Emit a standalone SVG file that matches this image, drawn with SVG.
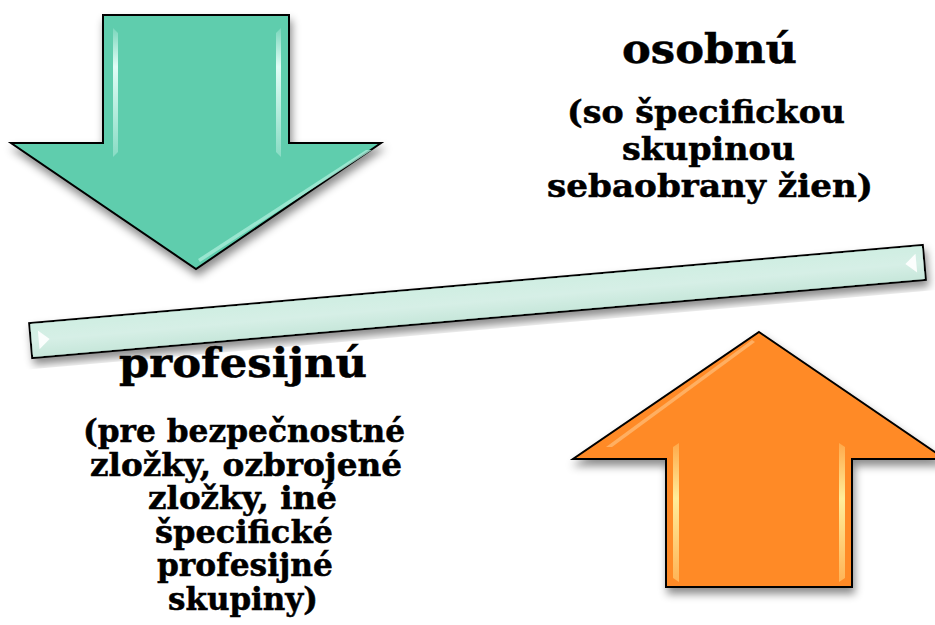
<svg xmlns="http://www.w3.org/2000/svg" width="935" height="625" viewBox="0 0 935 625">
  <defs>
    <filter id="shadow" x="-20%" y="-20%" width="140%" height="150%">
      <feDropShadow dx="2" dy="6" stdDeviation="4" flood-color="#000" flood-opacity="0.45"/>
    </filter>
    <linearGradient id="beamFill" x1="0" y1="0" x2="0" y2="1">
      <stop offset="0" stop-color="#cfeee2"/>
      <stop offset="0.5" stop-color="#d6efe6"/>
      <stop offset="1" stop-color="#c6e6da"/>
    </linearGradient>
    <linearGradient id="greenHi" x1="0" y1="0" x2="0" y2="1">
      <stop offset="0" stop-color="#e8fffa" stop-opacity="0.2"/>
      <stop offset="0.3" stop-color="#e8fffa" stop-opacity="0.95"/>
      <stop offset="1" stop-color="#e8fffa" stop-opacity="0.3"/>
    </linearGradient>
    <linearGradient id="orangeHi" x1="0" y1="0" x2="0" y2="1">
      <stop offset="0" stop-color="#fff2a0" stop-opacity="0.3"/>
      <stop offset="0.4" stop-color="#fff2a0" stop-opacity="0.95"/>
      <stop offset="1" stop-color="#fff2a0" stop-opacity="0.4"/>
    </linearGradient>
  </defs>
  <style>
    .outline { stroke: #000; stroke-width: 2; stroke-linejoin: miter; }
    .green { fill: #5ecdad; }
    .orange { fill: #ff8a26; }
    .title, .sub { font-family: "DejaVu Serif", "Liberation Serif", serif; font-weight: bold; fill: #000; stroke: #000; stroke-width: 0.5; }
    .title { font-size: 41px; }
    .sub { font-size: 31px; }
  </style>

  <rect width="935" height="625" fill="#fff"/>

  <!-- downward green arrow -->
  <g id="down-arrow">
    <polygon class="green outline" filter="url(#shadow)" points="103,15 289,15 289,143 381,143 196,269 11,143 103,143"/>
    <path d="M113,28 L118,33 L118,152 L113,157 Z" fill="url(#greenHi)"/>
    <path d="M281,28 L276,33 L276,152 L281,157 Z" fill="url(#greenHi)"/>
    <path d="M372,150 L200,262 L198,259 L366,150 Z" fill="#a8ecd8" opacity="0.8"/>
  </g>

  <!-- upward orange arrow -->
  <g id="up-arrow">
    <polygon class="orange outline" filter="url(#shadow)" points="759,332 945,459 852,459 852,587 666,587 666,459 573,459"/>
    <path d="M673,447 L679,443 L679,582 L673,578 Z" fill="url(#orangeHi)"/>
    <path d="M845,447 L839,443 L839,582 L845,578 Z" fill="url(#orangeHi)"/>
    <path d="M755,342 L612,447 L606,447 L752,340 Z" fill="#ffb870" opacity="0.8"/>
  </g>

  <!-- tilted beam -->
  <g id="beam" transform="rotate(-5 477.5 301.5)">
    <rect class="outline" x="29" y="284" width="897" height="35" fill="url(#beamFill)" filter="url(#shadow)"/>
    <polygon points="37,292 48,301.5 37,311" fill="#fff" opacity="0.9"/>
    <polygon points="918,292 907,301.5 918,311" fill="#fff" opacity="0.9"/>
  </g>

  <!-- personal defence label -->
  <g id="label-personal">
    <text class="title" x="622" y="63" textLength="175" lengthAdjust="spacingAndGlyphs">osobnú</text>
  </g>
  <g id="label-personal-note">
    <text class="sub" x="567" y="123" textLength="278" lengthAdjust="spacingAndGlyphs">(so špecifickou</text>
    <text class="sub" x="622" y="160" textLength="173" lengthAdjust="spacingAndGlyphs">skupinou</text>
    <text class="sub" x="547" y="197" textLength="326" lengthAdjust="spacingAndGlyphs">sebaobrany žien)</text>
  </g>

  <!-- professional defence label -->
  <g id="label-professional">
    <text class="title" x="119" y="377" textLength="248" lengthAdjust="spacingAndGlyphs">profesijnú</text>
  </g>
  <g id="label-professional-note">
    <text class="sub" x="83" y="442" textLength="322" lengthAdjust="spacingAndGlyphs">(pre bezpečnostné</text>
    <text class="sub" x="90" y="475.5" textLength="312" lengthAdjust="spacingAndGlyphs">zložky, ozbrojené</text>
    <text class="sub" x="148" y="509" textLength="189" lengthAdjust="spacingAndGlyphs">zložky, iné</text>
    <text class="sub" x="155" y="542.5" textLength="178" lengthAdjust="spacingAndGlyphs">špecifické</text>
    <text class="sub" x="157" y="576" textLength="176" lengthAdjust="spacingAndGlyphs">profesijné</text>
    <text class="sub" x="168" y="609.5" textLength="150" lengthAdjust="spacingAndGlyphs">skupiny)</text>
  </g>
</svg>
